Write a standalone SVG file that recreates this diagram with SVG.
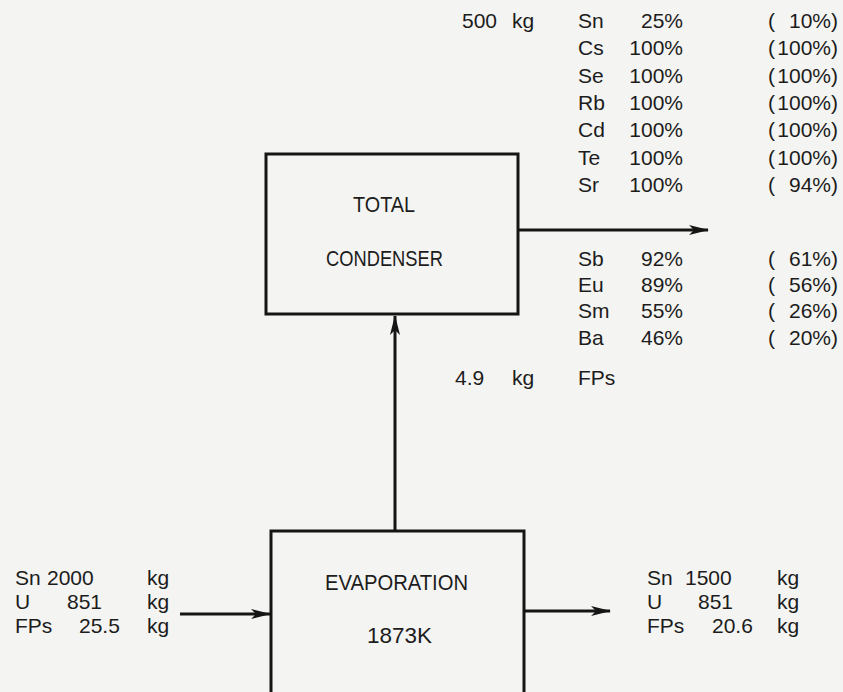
<svg xmlns="http://www.w3.org/2000/svg" width="843" height="692" viewBox="0 0 843 692">
<style>
text{font-family:"Liberation Sans",Arial,sans-serif;font-size:21px;fill:#1c1c1c}
.e{text-anchor:end}
.m{font-size:22px}
.box{fill:none;stroke:#151515;stroke-width:3}
.ln{stroke:#151515;stroke-width:3;fill:none}
</style>
<defs>
<marker id="ah" viewBox="0 0 20 10" refX="19" refY="5" markerWidth="20" markerHeight="10" markerUnits="userSpaceOnUse" orient="auto">
<path d="M0,0 L20,5 L0,10 L5,5 Z" fill="#151515"/>
</marker>
</defs>
<rect width="843" height="692" fill="#f4f4f2"/>
<g id="connectors">
<line class="ln" x1="518" y1="230" x2="708" y2="230" marker-end="url(#ah)"/>
<line class="ln" x1="395" y1="530" x2="395" y2="316" marker-end="url(#ah)"/>
<line class="ln" x1="180" y1="614" x2="270" y2="614" marker-end="url(#ah)"/>
<line class="ln" x1="525" y1="611" x2="610" y2="611" marker-end="url(#ah)"/>
</g>
<g id="condenser">
<rect class="box" x="266" y="154" width="252" height="160"/>
<text class="m" x="353" y="212" textLength="62" lengthAdjust="spacingAndGlyphs">TOTAL</text>
<text class="m" x="326" y="266" textLength="117" lengthAdjust="spacingAndGlyphs">CONDENSER</text>
</g>
<g id="evaporation">
<rect class="box" x="271" y="531" width="253" height="170"/>
<text class="m" x="325" y="590" textLength="143" lengthAdjust="spacingAndGlyphs">EVAPORATION</text>
<text class="m" x="367" y="643" textLength="65" lengthAdjust="spacingAndGlyphs">1873K</text>
</g>
<g id="feed">
<text x="15" y="585">Sn</text><text x="47" y="585">2000</text><text x="147" y="585">kg</text>
<text x="15" y="609">U</text><text x="67" y="609">851</text><text x="147" y="609">kg</text>
<text x="15" y="633">FPs</text><text x="79" y="633">25.5</text><text x="147" y="633">kg</text>
</g>
<g id="residue">
<text x="647" y="585">Sn</text><text x="685" y="585">1500</text><text x="777" y="585">kg</text>
<text x="647" y="609">U</text><text x="698" y="609">851</text><text x="777" y="609">kg</text>
<text x="647" y="633">FPs</text><text x="712" y="633">20.6</text><text x="777" y="633">kg</text>
</g>
<g id="condensate">
<text x="462" y="28">500</text><text x="512" y="28">kg</text>
<text x="578" y="28">Sn</text><text class="e" x="683" y="28">25%</text><text x="768" y="28">(</text><text class="e" x="838" y="28">10%)</text>
<text x="578" y="55">Cs</text><text class="e" x="683" y="55">100%</text><text x="768" y="55">(</text><text class="e" x="838" y="55">100%)</text>
<text x="578" y="83">Se</text><text class="e" x="683" y="83">100%</text><text x="768" y="83">(</text><text class="e" x="838" y="83">100%)</text>
<text x="578" y="110">Rb</text><text class="e" x="683" y="110">100%</text><text x="768" y="110">(</text><text class="e" x="838" y="110">100%)</text>
<text x="578" y="137">Cd</text><text class="e" x="683" y="137">100%</text><text x="768" y="137">(</text><text class="e" x="838" y="137">100%)</text>
<text x="578" y="165">Te</text><text class="e" x="683" y="165">100%</text><text x="768" y="165">(</text><text class="e" x="838" y="165">100%)</text>
<text x="578" y="192">Sr</text><text class="e" x="683" y="192">100%</text><text x="768" y="192">(</text><text class="e" x="838" y="192">94%)</text>
<text x="578" y="266">Sb</text><text class="e" x="683" y="266">92%</text><text x="768" y="266">(</text><text class="e" x="838" y="266">61%)</text>
<text x="578" y="292">Eu</text><text class="e" x="683" y="292">89%</text><text x="768" y="292">(</text><text class="e" x="838" y="292">56%)</text>
<text x="578" y="318">Sm</text><text class="e" x="683" y="318">55%</text><text x="768" y="318">(</text><text class="e" x="838" y="318">26%)</text>
<text x="578" y="345">Ba</text><text class="e" x="683" y="345">46%</text><text x="768" y="345">(</text><text class="e" x="838" y="345">20%)</text>
<text x="455" y="385">4.9</text><text x="512" y="385">kg</text><text x="578" y="385">FPs</text>
</g>
</svg>
